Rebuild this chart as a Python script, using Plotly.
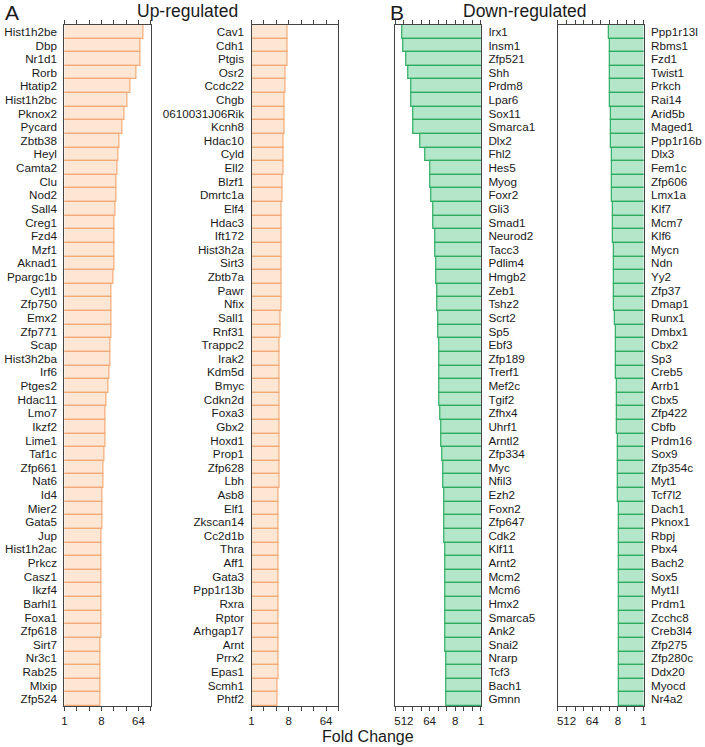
import math
import plotly.graph_objects as go

# ---------------- data ----------------
up_genes_1 = ["Hist1h2be", "Dbp", "Nr1d1", "Rorb", "Htatip2", "Hist1h2bc", "Pknox2", "Pycard", "Zbtb38", "Heyl",
              "Camta2", "Clu", "Nod2", "Sall4", "Creg1", "Fzd4", "Mzf1", "Aknad1", "Ppargc1b", "Cytl1",
              "Zfp750", "Emx2", "Zfp771", "Scap", "Hist3h2ba", "Irf6", "Ptges2", "Hdac11", "Lmo7", "Ikzf2",
              "Lime1", "Taf1c", "Zfp661", "Nat6", "Id4", "Mier2", "Gata5", "Jup", "Hist1h2ac", "Prkcz",
              "Casz1", "Ikzf4", "Barhl1", "Foxa1", "Zfp618", "Sirt7", "Nr3c1", "Rab25", "Mlxip", "Zfp524"]
up_fc_1 = [87, 73, 71, 59, 41, 34, 30, 26, 22.5, 20.5,
           19.8, 18.8, 18.4, 17.4, 16.8, 16.5, 16.5, 16.5, 15.9, 14.2,
           14.2, 14.2, 13.9, 13.2, 13.2, 12.5, 12.0, 10.8, 10.2, 10.2,
           10.0, 9.5, 8.9, 8.8, 8.6, 8.6, 8.5, 8.2, 8.0, 8.0,
           7.9, 7.8, 7.8, 7.8, 7.8, 7.6, 7.6, 7.6, 7.6, 7.6]

up_genes_2 = ["Cav1", "Cdh1", "Ptgis", "Osr2", "Ccdc22", "Chgb", "0610031J06Rik", "Kcnh8", "Hdac10", "Cyld",
              "Ell2", "Blzf1", "Dmrtc1a", "Elf4", "Hdac3", "Ift172", "Hist3h2a", "Sirt3", "Zbtb7a", "Pawr",
              "Nfix", "Sall1", "Rnf31", "Trappc2", "Irak2", "Kdm5d", "Bmyc", "Cdkn2d", "Foxa3", "Gbx2",
              "Hoxd1", "Prop1", "Zfp628", "Lbh", "Asb8", "Elf1", "Zkscan14", "Cc2d1b", "Thra", "Aff1",
              "Gata3", "Ppp1r13b", "Rxra", "Rptor", "Arhgap17", "Arnt", "Prrx2", "Epas1", "Scmh1", "Phtf2"]
up_fc_2 = [7.4, 7.4, 7.3, 6.8, 6.8, 6.4, 6.4, 6.3, 6.1, 6.1,
           6.0, 5.7, 5.7, 5.4, 5.4, 5.4, 5.4, 5.4, 5.4, 5.4,
           5.4, 5.1, 5.1, 4.9, 4.9, 4.9, 4.9, 4.9, 4.9, 4.9,
           4.9, 4.9, 4.9, 4.9, 4.6, 4.6, 4.6, 4.6, 4.6, 4.6,
           4.6, 4.6, 4.4, 4.4, 4.4, 4.4, 4.4, 4.4, 4.2, 4.2]

down_genes_1 = ["Irx1", "Insm1", "Zfp521", "Shh", "Prdm8", "Lpar6", "Sox11", "Smarca1", "Dlx2", "Fhl2",
                "Hes5", "Myog", "Foxr2", "Gli3", "Smad1", "Neurod2", "Tacc3", "Pdlim4", "Hmgb2", "Zeb1",
                "Tshz2", "Scrt2", "Sp5", "Ebf3", "Zfp189", "Trerf1", "Mef2c", "Tgif2", "Zfhx4", "Uhrf1",
                "Arntl2", "Zfp334", "Myc", "Nfil3", "Ezh2", "Foxn2", "Zfp647", "Cdk2", "Klf11", "Arnt2",
                "Mcm2", "Mcm6", "Hmx2", "Smarca5", "Ank2", "Snai2", "Nrarp", "Tcf3", "Bach1", "Gmnn"]
down_fc_1 = [600, 556, 413, 362, 277, 270, 236, 230, 131, 88,
             59, 58, 55, 49, 46.5, 39.6, 38.6, 36.5, 35.6, 33.8,
             32.8, 31.1, 30.3, 29.5, 29.5, 28.8, 28.0, 28.0, 26.5, 25.1,
             23.9, 22.0, 20.9, 20.3, 19.8, 19.3, 18.8, 18.8, 18.3, 18.3,
             17.8, 17.8, 17.8, 17.8, 17.3, 17.3, 16.9, 16.9, 16.4, 16.4]

down_genes_2 = ["Ppp1r13l", "Rbms1", "Fzd1", "Twist1", "Prkch", "Rai14", "Arid5b", "Maged1", "Ppp1r16b", "Dlx3",
                "Fem1c", "Zfp606", "Lmx1a", "Klf7", "Mcm7", "Klf6", "Mycn", "Ndn", "Yy2", "Zfp37",
                "Dmap1", "Runx1", "Dmbx1", "Cbx2", "Sp3", "Creb5", "Arrb1", "Cbx5", "Zfp422", "Cbfb",
                "Prdm16", "Sox9", "Zfp354c", "Myt1", "Tcf7l2", "Dach1", "Pknox1", "Rbpj", "Pbx4", "Bach2",
                "Sox5", "Myt1l", "Prdm1", "Zcchc8", "Creb3l4", "Zfp275", "Zfp280c", "Ddx20", "Myocd", "Nr4a2"]
down_fc_2 = [16.4, 15.6, 15.6, 15.6, 15.2, 14.8, 14.0, 13.6, 13.6, 13.3,
             12.9, 12.9, 12.6, 12.3, 12.0, 11.7, 11.3, 11.0, 11.0, 11.0,
             10.7, 10.4, 9.6, 9.6, 9.6, 9.3, 8.9, 8.6, 8.4, 8.4,
             8.1, 7.9, 7.9, 7.8, 7.8, 7.6, 7.6, 7.6, 7.6, 7.4,
             7.4, 7.4, 7.4, 7.4, 7.4, 7.4, 7.4, 7.4, 7.4, 7.4]

up_ticks = [1, 2, 4, 8, 16, 32, 64, 128]
up_ticktext = ["1", "", "", "8", "", "", "64", ""]
down_ticks = [1, 2, 4, 8, 16, 32, 64, 128, 256, 512, 1024]
down_ticktext = ["1", "", "", "8", "", "", "64", "", "", "512", ""]

# ---------------- style ----------------
FONT = "Liberation Sans, Arial, sans-serif"
W, H = 705, 747
UP_FILL, UP_LINE = "#FDE6D4", "#F2AB76"
DN_FILL, DN_LINE = "#B4E7CA", "#2EAD62"
AX = "#444444"

y_dom = [1 - 706 / H, 1 - 25 / H]
panels = [
    dict(genes=up_genes_1, fc=up_fc_1, fill=UP_FILL, line=UP_LINE, x0=62, x1=149, up=True),
    dict(genes=up_genes_2, fc=up_fc_2, fill=UP_FILL, line=UP_LINE, x0=250.7, x1=338.3, up=True),
    dict(genes=down_genes_1, fc=down_fc_1, fill=DN_FILL, line=DN_LINE, x0=395.7, x1=482, up=False),
    dict(genes=down_genes_2, fc=down_fc_2, fill=DN_FILL, line=DN_LINE, x0=559.7, x1=646, up=False),
]

fig = go.Figure()
layout = dict(
    width=W, height=H, margin=dict(l=0, r=0, t=0, b=0),
    paper_bgcolor="white", plot_bgcolor="white",
    showlegend=False, bargap=0,
    font=dict(family=FONT, color="#1a1a1a", size=12),
)

for i, p in enumerate(panels, start=1):
    xa = "x" if i == 1 else f"x{i}"
    ya = "y" if i == 1 else f"y{i}"
    fig.add_trace(go.Bar(
        x=p["fc"], y=p["genes"], orientation="h",
        xaxis=xa, yaxis=ya,
        marker=dict(color=p["fill"], line=dict(color=p["line"], width=1.2)),
        width=1.0,
    ))
    xkey = "xaxis" if i == 1 else f"xaxis{i}"
    ykey = "yaxis" if i == 1 else f"yaxis{i}"
    if p["up"]:
        rng = [0, math.log10(128)]
        tv, tt = up_ticks, up_ticktext
    else:
        rng = [math.log10(1024), 0]
        tv, tt = down_ticks, down_ticktext
    layout[xkey] = dict(
        domain=[p["x0"] / W, p["x1"] / W], anchor=ya, type="log", range=rng,
        tickmode="array", tickvals=tv, ticktext=tt,
        ticks="outside", ticklen=4, tickwidth=1, tickcolor=AX,
        showline=True, linecolor=AX, linewidth=1.3, mirror="ticks",
        showgrid=False, zeroline=False, tickfont=dict(size=11.5, family=FONT, color="#1a1a1a"),
    )
    layout[ykey] = dict(
        domain=y_dom, anchor=xa, type="category", autorange="reversed",
        tickmode="array", tickvals=p["genes"], ticktext=p["genes"],
        side="left" if p["up"] else "right",
        showline=True, linecolor=AX, linewidth=1.3, mirror=True,
        ticks="", showgrid=False, zeroline=False,
        tickfont=dict(size=11.7, family=FONT, color="#1a1a1a"),
        ticklabelstandoff=4,
    )

fig.update_layout(**layout)

ann = [
    dict(text="A", x=1 / W, y=1.0, xanchor="left", yanchor="top", font=dict(size=21)),
    dict(text="Up-regulated", x=186 / W, y=1 - 11.5 / H, xanchor="center", yanchor="middle", font=dict(size=17.5)),
    dict(text="B", x=389 / W, y=1.0, xanchor="left", yanchor="top", font=dict(size=21)),
    dict(text="Down-regulated", x=526 / W, y=1 - 11.5 / H, xanchor="center", yanchor="middle", font=dict(size=17.5)),
    dict(text="Fold Change", x=368 / W, y=1 - 736 / H, xanchor="center", yanchor="middle", font=dict(size=16)),
]
for a in ann:
    a.update(xref="paper", yref="paper", showarrow=False, borderpad=0)
    a["font"].update(family=FONT, color="#1a1a1a")
    fig.add_annotation(**a)

fig.write_html("out.html", config={"displayModeBar": False},
               post_script="document.body.style.margin='0';document.body.style.padding='0';")
